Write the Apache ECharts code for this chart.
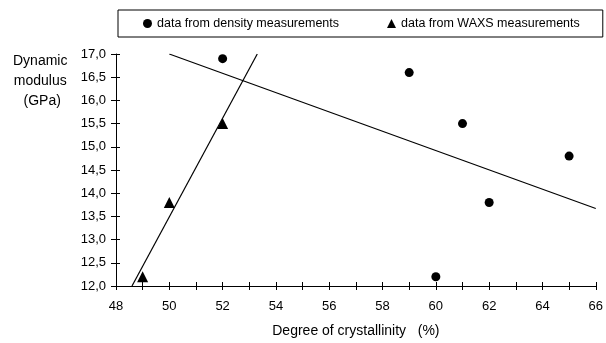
<!DOCTYPE html>
<html>
<head>
<meta charset="utf-8">
<script src="https://cdn.jsdelivr.net/npm/echarts@6/dist/echarts.min.js"></script>
<style>
  html, body { margin: 0; padding: 0; background: #fff; }
  #chart { width: 606px; height: 343px; }
</style>
</head>
<body>
<div id="chart"></div>
<script>
// density measurements (crystallinity %, modulus GPa)
var densityPoints = [[52, 16.9], [59, 16.6], [60, 12.2], [61, 15.5], [62, 13.8], [65, 14.8]];
// WAXS measurements
var waxsPoints = [[49, 12.2], [50, 13.8], [52, 15.5]];
// fitted lines, endpoints
var densityFit = [[50, 17.0], [66, 13.67]];
var waxsFit = [[48.6, 12.0], [53.3, 17.0]];

var font = 'Liberation Sans, Arial, sans-serif';

function ticksAxis(type, min, max, interval, inside) {
    // overlay axis that only draws the inner half of each tick
    return {
        type: 'value', min: min, max: max, interval: interval,
        position: type === 'x' ? 'bottom' : 'left',
        axisLine: {show: false},
        axisLabel: {show: false},
        splitLine: {show: false},
        axisTick: {show: true, inside: inside, length: 4, lineStyle: {color: '#000', width: 1}}
    };
}

var chart = echarts.init(document.getElementById('chart'));
chart.setOption({
    animation: false,
    backgroundColor: '#fff',
    grid: {left: 116, right: 10, top: 54, bottom: 55},
    legend: {
        left: 118, top: 10,
        padding: [7, 23, 7, 25],
        itemGap: 48,
        itemWidth: 9, itemHeight: 9,
        borderColor: '#000', borderWidth: 1,
        textStyle: {fontFamily: font, fontSize: 12.5, color: '#000'},
        data: [
            {name: 'data from density measurements', icon: 'circle'},
            {name: 'data from WAXS measurements', icon: 'triangle'}
        ]
    },
    xAxis: [{
        type: 'value', min: 48, max: 66, interval: 1,
        name: 'Degree of crystallinity   (%)',
        nameLocation: 'middle', nameGap: 38,
        nameTextStyle: {fontFamily: font, fontSize: 14, color: '#000'},
        axisLine: {show: true, lineStyle: {color: '#000', width: 1}},
        axisTick: {show: true, length: 4, lineStyle: {color: '#000'}},
        axisLabel: {
            fontFamily: font, fontSize: 13, color: '#000', margin: 14,
            formatter: function (v) { return v % 2 === 0 ? String(v) : ''; }
        },
        splitLine: {show: false}
    }, ticksAxis('x', 48, 66, 1, true)],
    yAxis: [{
        type: 'value', min: 12, max: 17, interval: 0.5,
        axisLine: {show: true, lineStyle: {color: '#000', width: 1}},
        axisTick: {show: true, length: 5, lineStyle: {color: '#000'}},
        axisLabel: {
            fontFamily: font, fontSize: 13, color: '#000', margin: 10,
            formatter: function (v) { return v.toFixed(1).replace('.', ','); }
        },
        splitLine: {show: false}
    }, ticksAxis('y', 12, 17, 0.5, true)],
    graphic: [{
        type: 'text', left: 13, top: 51,
        style: {
            text: 'Dynamic\nmodulus\n (GPa)', fill: '#000',
            font: '14px ' + font, lineHeight: 20, textAlign: 'center'
        }
    }],
    series: [{
        type: 'line', data: densityFit, symbol: 'none', silent: true,
        lineStyle: {color: '#000', width: 1.2}
    }, {
        type: 'line', data: waxsFit, symbol: 'none', silent: true,
        lineStyle: {color: '#000', width: 1.2}
    }, {
        name: 'data from density measurements', type: 'scatter',
        data: densityPoints, symbol: 'circle', symbolSize: 9,
        itemStyle: {color: '#000', opacity: 1}
    }, {
        name: 'data from WAXS measurements', type: 'scatter',
        data: waxsPoints, symbol: 'triangle', symbolSize: 11,
        itemStyle: {color: '#000', opacity: 1}
    }]
});
</script>
</body>
</html>
